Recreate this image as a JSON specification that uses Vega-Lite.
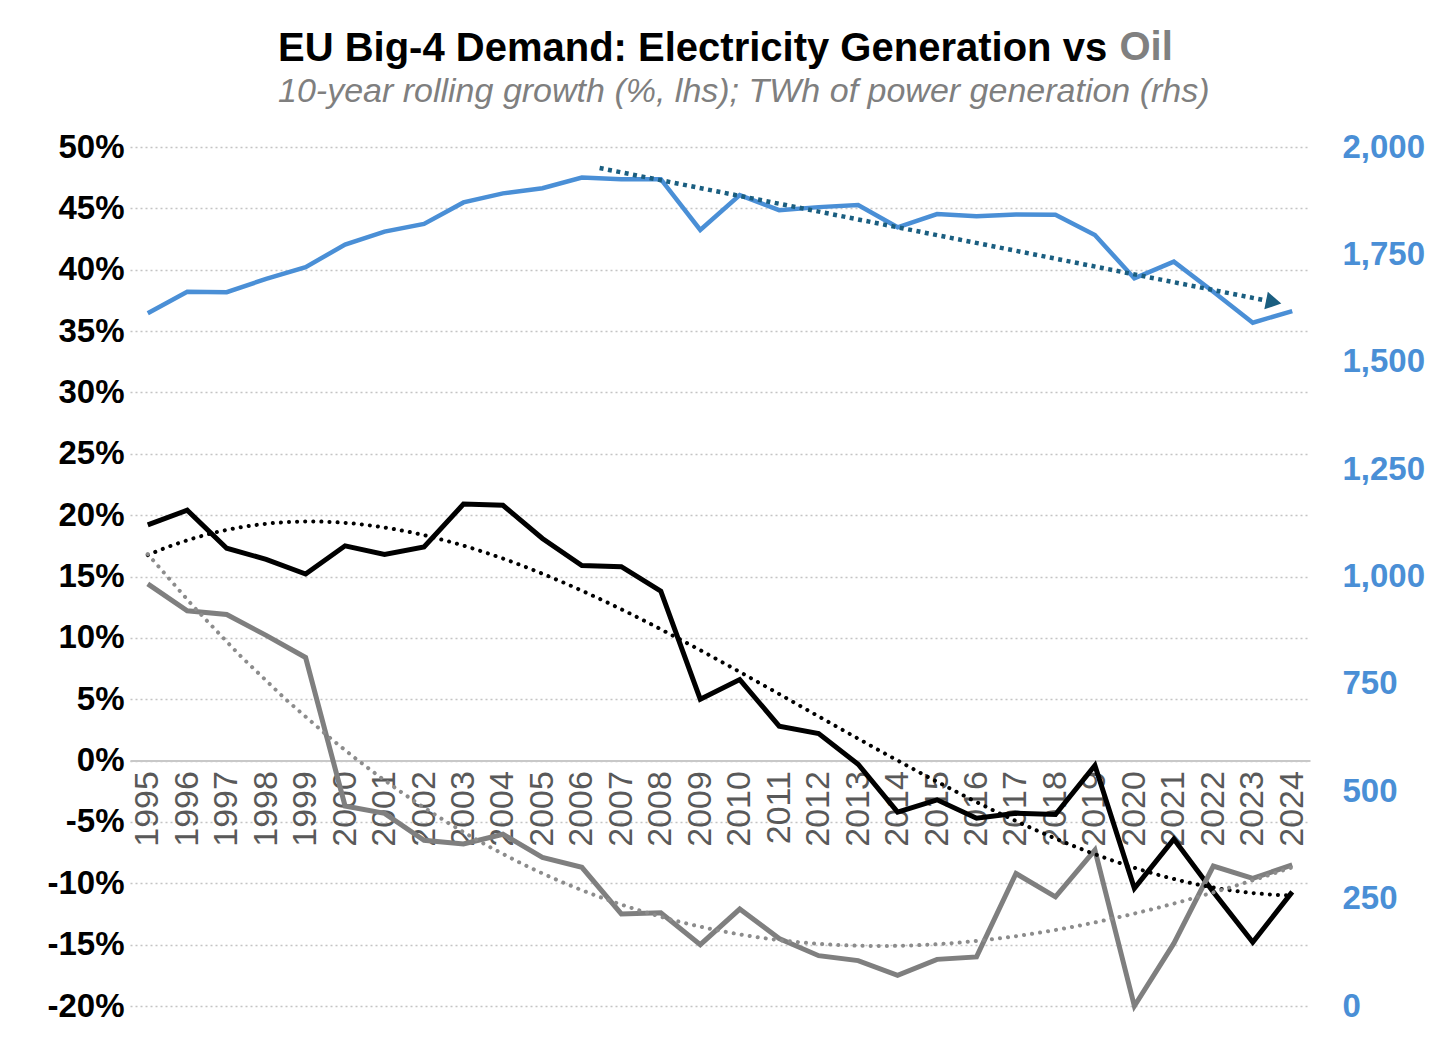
{
  "$schema": "https://vega.github.io/schema/vega-lite/v6.json",
  "width": 1180,
  "height": 859,
  "autosize": {"type": "none"},
  "padding": {"left": 130, "top": 147, "right": 146, "bottom": 34},
  "background": "white",
  "config": {"font": "Liberation Sans", "view": {"stroke": null}},
  "title": {
    "text": "EU Big-4 Demand: Electricity Generation vs",
    "subtitle": "10-year rolling growth (%, lhs); TWh of power generation (rhs)",
    "anchor": "start",
    "frame": "group",
    "dx": 148,
    "offset": -82,
    "font": "Liberation Sans",
    "fontSize": 40,
    "fontWeight": "bold",
    "color": "#000000",
    "subtitleFont": "Liberation Sans",
    "subtitleFontSize": 34,
    "subtitleFontStyle": "italic",
    "subtitleColor": "#7f7f7f",
    "subtitlePadding": 6
  },
  "datasets": {
    "main": [
      {"year": 1995, "elec": 19.2, "oil": 14.4, "twh": 1613},
      {"year": 1996, "elec": 20.4, "oil": 12.2, "twh": 1663},
      {"year": 1997, "elec": 17.3, "oil": 11.9, "twh": 1662},
      {"year": 1998, "elec": 16.4, "oil": 10.2, "twh": 1693},
      {"year": 1999, "elec": 15.2, "oil": 8.4, "twh": 1720},
      {"year": 2000, "elec": 17.5, "oil": -3.7, "twh": 1773},
      {"year": 2001, "elec": 16.8, "oil": -4.3, "twh": 1803},
      {"year": 2002, "elec": 17.4, "oil": -6.5, "twh": 1821},
      {"year": 2003, "elec": 20.9, "oil": -6.8, "twh": 1871},
      {"year": 2004, "elec": 20.8, "oil": -6.0, "twh": 1892},
      {"year": 2005, "elec": 18.1, "oil": -7.9, "twh": 1904},
      {"year": 2006, "elec": 15.9, "oil": -8.7, "twh": 1929},
      {"year": 2007, "elec": 15.8, "oil": -12.5, "twh": 1925},
      {"year": 2008, "elec": 13.8, "oil": -12.4, "twh": 1925},
      {"year": 2009, "elec": 5.0, "oil": -15.0, "twh": 1807},
      {"year": 2010, "elec": 6.6, "oil": -12.1, "twh": 1888},
      {"year": 2011, "elec": 2.8, "oil": -14.5, "twh": 1853},
      {"year": 2012, "elec": 2.2, "oil": -15.9, "twh": 1860},
      {"year": 2013, "elec": -0.3, "oil": -16.3, "twh": 1865},
      {"year": 2014, "elec": -4.2, "oil": -17.5, "twh": 1813},
      {"year": 2015, "elec": -3.2, "oil": -16.2, "twh": 1844},
      {"year": 2016, "elec": -4.7, "oil": -16.0, "twh": 1839},
      {"year": 2017, "elec": -4.3, "oil": -9.2, "twh": 1843},
      {"year": 2018, "elec": -4.4, "oil": -11.1, "twh": 1842},
      {"year": 2019, "elec": -0.4, "oil": -7.3, "twh": 1795},
      {"year": 2020, "elec": -10.4, "oil": -20.0, "twh": 1694},
      {"year": 2021, "elec": -6.4, "oil": -14.9, "twh": 1733},
      {"year": 2022, "elec": -10.7, "oil": -8.6, "twh": 1663},
      {"year": 2023, "elec": -14.8, "oil": -9.6, "twh": 1591},
      {"year": 2024, "elec": -10.7, "oil": -8.5, "twh": 1618}
    ],
    "arrow": [
      {"year": 2006.45, "twh": 1951, "head": false},
      {"year": 2023.53, "twh": 1639, "head": true}
    ]
  },
  "layer": [
    {
      "data": {"name": "main"},
      "encoding": {
        "x": {
          "field": "year",
          "type": "quantitative",
          "scale": {"domain": [1994.55, 2024.45], "nice": false, "zero": false},
          "axis": {
            "orient": "bottom",
            "offset": -245.4,
            "values": [1995, 1996, 1997, 1998, 1999, 2000, 2001, 2002, 2003, 2004, 2005, 2006, 2007, 2008, 2009, 2010, 2011, 2012, 2013, 2014, 2015, 2016, 2017, 2018, 2019, 2020, 2021, 2022, 2023, 2024],
            "format": "d",
            "labelAngle": 270,
            "labelFontSize": 34,
            "labelFont": "Liberation Sans",
            "labelColor": "#595959",
            "labelPadding": 10,
            "labelOverlap": false,
            "labelFlush": false,
            "ticks": false,
            "domainColor": "#c8c8c8",
            "domainWidth": 2,
            "grid": false,
            "title": null
          }
        }
      },
      "layer": [
        {
          "mark": {"type": "line", "color": "#000000", "strokeWidth": 5, "strokeJoin": "miter"},
          "encoding": {
            "y": {
              "field": "elec",
              "type": "quantitative",
              "scale": {"domain": [-20, 50], "nice": false},
              "axis": {
                "orient": "left",
                "values": [-20, -15, -10, -5, 0, 5, 10, 15, 20, 25, 30, 35, 40, 45, 50],
                "labelExpr": "datum.value + '%'",
                "labelFontSize": 33,
                "labelFont": "Liberation Sans",
                "labelFontWeight": "bold",
                "labelColor": "#000000",
                "labelPadding": 6,
                "ticks": false,
                "domain": false,
                "grid": true,
                "gridColor": "#c4c4c4",
                "gridDash": [2, 3],
                "gridWidth": 1.5,
                "title": null
              }
            }
          }
        },
        {
          "mark": {"type": "line", "color": "#7f7f7f", "strokeWidth": 5, "strokeJoin": "miter"},
          "encoding": {"y": {"field": "oil", "type": "quantitative"}}
        },
        {
          "transform": [{"regression": "elec", "on": "year", "method": "poly", "order": 3, "extent": [1995, 2024]}],
          "mark": {"type": "line", "color": "#000000", "strokeWidth": 4, "strokeDash": [0.1, 8], "strokeCap": "round"},
          "encoding": {"y": {"field": "elec", "type": "quantitative"}}
        },
        {
          "transform": [{"regression": "oil", "on": "year", "method": "poly", "order": 3, "extent": [1995, 2024]}],
          "mark": {"type": "line", "color": "#8c8c8c", "strokeWidth": 4, "strokeDash": [0.1, 8], "strokeCap": "round"},
          "encoding": {"y": {"field": "oil", "type": "quantitative"}}
        }
      ]
    },
    {
      "encoding": {
        "x": {
          "field": "year",
          "type": "quantitative",
          "axis": {
            "orient": "top",
            "labels": false,
            "ticks": false,
            "domain": false,
            "grid": false,
            "title": "Oil",
            "titleFont": "Liberation Sans",
            "titleFontSize": 40,
            "titleFontWeight": "bold",
            "titleColor": "#808080",
            "titleAnchor": "start",
            "titleAlign": "left",
            "titleBaseline": "alphabetic",
            "titleAngle": 0,
            "titleX": 989,
            "titleY": -88
          }
        }
      },
      "layer": [
        {
          "data": {"name": "main"},
          "mark": {"type": "line", "color": "#4a8fd6", "strokeWidth": 4.5, "strokeJoin": "miter"},
          "encoding": {
            "y": {
              "field": "twh",
              "type": "quantitative",
              "scale": {"domain": [0, 2000], "nice": false},
              "axis": {
                "orient": "right",
                "values": [0, 250, 500, 750, 1000, 1250, 1500, 1750, 2000],
                "labelExpr": "format(datum.value, ',.0f')",
                "labelFontSize": 33,
                "labelFont": "Liberation Sans",
                "labelFontWeight": "bold",
                "labelColor": "#4a8fd6",
                "labelPadding": 32,
                "ticks": false,
                "domain": false,
                "grid": false,
                "title": null
              }
            }
          }
        },
        {
          "data": {"name": "arrow"},
          "mark": {"type": "line", "color": "#1a5e80", "strokeWidth": 4.5, "strokeDash": [4, 4.5]},
          "encoding": {"y": {"field": "twh", "type": "quantitative"}}
        },
        {
          "data": {"name": "arrow"},
          "transform": [{"filter": "datum.head"}],
          "mark": {"type": "point", "shape": "triangle-right", "filled": true, "color": "#1a5e80", "size": 320, "angle": 11.2, "opacity": 1},
          "encoding": {"y": {"field": "twh", "type": "quantitative"}}
        }
      ]
    }
  ],
  "resolve": {"scale": {"y": "independent"}, "axis": {"x": "independent", "y": "independent"}}
}
